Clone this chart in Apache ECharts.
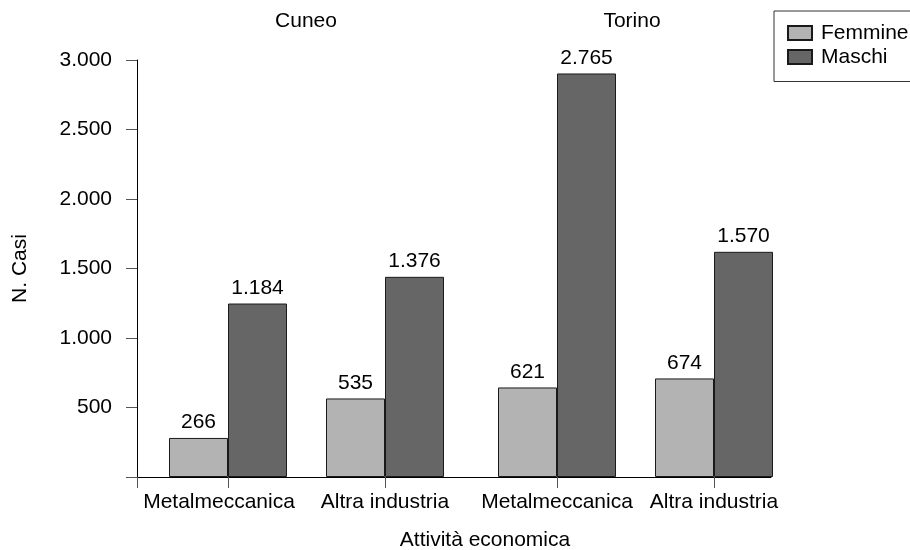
<!DOCTYPE html>
<html><head><meta charset="utf-8">
<script src="https://cdn.jsdelivr.net/npm/echarts@6/dist/echarts.min.js"></script>
<style>html,body{margin:0;padding:0;background:#fff}#c{width:910px;height:550px}</style>
</head><body><div id="c"></div>
<script>
const panels = ['Cuneo', 'Torino'];
const categories = ['Metalmeccanica', 'Altra industria'];
const seriesNames = ['Femmine', 'Maschi'];
// bar heights as drawn in the reference picture
const femmineCuneo = [281, 565];
const maschiCuneo = [1248, 1440];
const femmineTorino = [644, 709];
const maschiTorino = [2903, 1620];
// value labels printed above the bars
const femmineCuneoLabels = ['266', '535'];
const maschiCuneoLabels = ['1.184', '1.376'];
const femmineTorinoLabels = ['621', '674'];
const maschiTorinoLabels = ['2.765', '1.570'];
const yTickLabels = ['', '500', '1.000', '1.500', '2.000', '2.500', '3.000'];
const xTitle = 'Attività economica';
const yTitle = 'N. Casi';

const FONT = '"Liberation Sans", Helvetica, Arial, sans-serif';
const FS = 21;
const colors = ['#b3b3b3', '#666666'];
const Y_MAX = 3000;

const chart = echarts.init(document.getElementById('c'), null, {renderer: 'canvas'});

function barSeries(name, data, labels, axisIdx, color) {
  return {
    type: 'bar', name: name, data: data,
    xAxisIndex: axisIdx, yAxisIndex: axisIdx,
    barWidth: 59, barGap: '0%',
    itemStyle: {color: color, borderColor: '#1a1a1a', borderWidth: 1},
    label: {
      show: true, position: 'top', distance: 5,
      fontFamily: FONT, fontSize: FS, color: '#000',
      formatter: p => labels[p.dataIndex]
    },
    emphasis: {disabled: true},
    animation: false
  };
}

const gridTop = 60, gridBottom = 73;
const catAxis = (gi, shiftFirst) => ({
  gridIndex: gi, type: 'category', data: categories,
  axisLine: {show: false},
  axisTick: {show: true, alignWithLabel: true, length: 11, lineStyle: {color: '#555', width: 1}},
  axisLabel: {
    fontFamily: FONT, fontSize: FS, color: '#000', margin: 15, interval: 0,
    formatter: (v, i) => (shiftFirst && i === 0) ? '{s|' + v + '}' : '{n|' + v + '}',
    rich: {
      s: {fontFamily: FONT, fontSize: FS, color: '#000', padding: [0, 18, 0, 0]},
      n: {fontFamily: FONT, fontSize: FS, color: '#000'}
    }
  }
});
const panelY = (gi) => ({
  gridIndex: gi, type: 'value', min: 0, max: Y_MAX, show: false
});
// small tick grids spanning from one category centre to the next
const tickX = (gi) => ({
  gridIndex: gi, type: 'category', data: ['', ''], boundaryGap: false, z: 3,
  axisLine: {show: true, lineStyle: {color: '#000', width: 1}},
  axisTick: {show: true, length: 11, lineStyle: {color: '#555', width: 1}},
  axisLabel: {show: false}, splitLine: {show: false}
});
const tickY = (gi) => ({
  gridIndex: gi, type: 'value', min: 0, max: 1, interval: 1, z: 1,
  axisLine: {show: true, lineStyle: {color: '#1a1a1a', width: 1}},
  axisTick: {show: false}, axisLabel: {show: false}, splitLine: {show: false}
});
const option = {
  animation: false,
  title: [
    {text: panels[0], left: 306, top: 11, textAlign: 'center', padding: 0,
     textStyle: {fontFamily: FONT, fontSize: FS, fontWeight: 'normal', color: '#000'}},
    {text: panels[1], left: 632, top: 11, textAlign: 'center', padding: 0,
     textStyle: {fontFamily: FONT, fontSize: FS, fontWeight: 'normal', color: '#000'}},
    {text: xTitle, left: 485, top: 530, textAlign: 'center', padding: 0,
     textStyle: {fontFamily: FONT, fontSize: FS, fontWeight: 'normal', color: '#000'}}
  ],
  legend: {
    data: seriesNames, orient: 'vertical', left: 774, top: 11,
    icon: 'rect',
    itemWidth: 24, itemHeight: 14, itemGap: 3,
    padding: [11.5, 30, 14, 13],
    borderColor: '#333', borderWidth: 1,
    selectedMode: false,
    textStyle: {fontFamily: FONT, fontSize: FS, color: '#000', lineHeight: 21, padding: [0, 0, 0, 4]}
  },
  grid: [
    {left: 149.5, width: 314, top: gridTop, bottom: gridBottom},
    {left: 478.5, width: 314, top: gridTop, bottom: gridBottom},
    {left: 137, right: 139, top: gridTop, bottom: gridBottom},
    {left: 228, width: 157, top: 470, bottom: gridBottom},
    {left: 557, width: 157, top: 470, bottom: gridBottom}
  ],
  xAxis: [
    catAxis(0, true),
    catAxis(1, false),
    {gridIndex: 2, type: 'category', data: ['', ''], boundaryGap: false, z: 3,
     axisLine: {show: true, lineStyle: {color: '#000', width: 1}},
     axisTick: {show: true, length: 11, interval: (i) => i === 0, lineStyle: {color: '#555'}},
     axisLabel: {show: false}, splitLine: {show: false}},
    tickX(3),
    tickX(4)
  ],
  yAxis: [
    panelY(0),
    panelY(1),
    {gridIndex: 2, type: 'value', min: 0, max: Y_MAX, interval: 500, z: 3,
     axisLine: {show: true, lineStyle: {color: '#000', width: 1}},
     axisTick: {show: true, length: 11, lineStyle: {color: '#555'}},
     axisLabel: {fontFamily: FONT, fontSize: FS, color: '#000', margin: 25,
                 formatter: (v) => yTickLabels[Math.round(v / 500)]},
     splitLine: {show: false},
     name: yTitle, nameLocation: 'middle', nameGap: 106,
     nameTextStyle: {fontFamily: FONT, fontSize: FS, color: '#000'}},
    tickY(3),
    tickY(4)
  ],
  series: [
    barSeries(seriesNames[0], femmineCuneo, femmineCuneoLabels, 0, colors[0]),
    barSeries(seriesNames[1], maschiCuneo, maschiCuneoLabels, 0, colors[1]),
    barSeries(seriesNames[0], femmineTorino, femmineTorinoLabels, 1, colors[0]),
    barSeries(seriesNames[1], maschiTorino, maschiTorinoLabels, 1, colors[1])
  ]
};
chart.setOption(option);
</script>
</body></html>
